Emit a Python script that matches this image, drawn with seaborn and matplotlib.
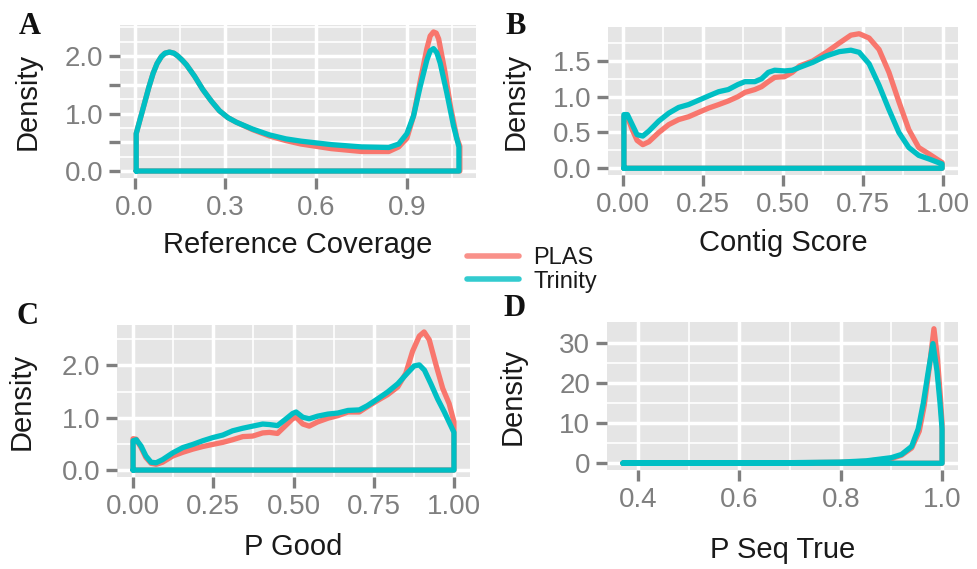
import numpy as np
import pandas as pd
import matplotlib
matplotlib.use("Agg")
import matplotlib.pyplot as plt
import seaborn as sns
from matplotlib.lines import Line2D
from matplotlib.ticker import FixedLocator, FixedFormatter

sns.set_theme(style="darkgrid")
plt.rcParams['font.family'] = ['Liberation Sans', 'DejaVu Sans']

methods = ["PLAS", "Trinity"]
colors = {"PLAS": "#F8766D", "Trinity": "#00BFC4"}

# ---------------- Panel A: Reference Coverage ----------------
a_trin_x = [0.005, 0.019, 0.033, 0.047, 0.061, 0.074, 0.088, 0.10, 0.115, 0.13, 0.143, 0.157, 0.171,
            0.198, 0.225, 0.253, 0.28, 0.308, 0.336, 0.39, 0.445, 0.5, 0.55, 0.65, 0.75, 0.84,
            0.873, 0.9, 0.922, 0.944, 0.966, 0.977, 0.988, 0.999, 1.01, 1.032, 1.054, 1.072]
a_trin_y = [0.65, 0.92, 1.19, 1.46, 1.70, 1.87, 1.99, 2.05, 2.07, 2.05, 2.00, 1.93, 1.85,
            1.65, 1.42, 1.22, 1.05, 0.93, 0.85, 0.73, 0.63, 0.56, 0.52, 0.46, 0.42, 0.41,
            0.47, 0.65, 0.96, 1.47, 1.93, 2.09, 2.13, 2.06, 1.88, 1.36, 0.79, 0.42]
a_plas_x = [0.005, 0.019, 0.033, 0.047, 0.061, 0.074, 0.088, 0.10, 0.115, 0.13, 0.143, 0.157, 0.171,
            0.198, 0.225, 0.253, 0.28, 0.308, 0.336, 0.39, 0.445, 0.5, 0.55, 0.65, 0.75, 0.84,
            0.873, 0.9, 0.922, 0.944, 0.966, 0.977, 0.988, 0.997, 1.005, 1.025, 1.045, 1.065, 1.075]
a_plas_y = [0.65, 0.92, 1.19, 1.46, 1.70, 1.87, 1.99, 2.05, 2.07, 2.05, 2.00, 1.93, 1.85,
            1.65, 1.42, 1.22, 1.05, 0.93, 0.85, 0.72, 0.61, 0.53, 0.47, 0.39, 0.34, 0.34,
            0.42, 0.57, 0.96, 1.56, 2.13, 2.35, 2.42, 2.40, 2.30, 1.75, 1.10, 0.58, 0.43]

# ---------------- Panel B: Contig Score ----------------
b_x = [0.004, 0.015, 0.03, 0.045, 0.063, 0.082, 0.113, 0.144, 0.175, 0.206, 0.237, 0.268, 0.30,
       0.33, 0.36, 0.382, 0.413, 0.434, 0.455, 0.475, 0.506, 0.53, 0.553, 0.594, 0.636, 0.677,
       0.713, 0.739, 0.77, 0.801, 0.832, 0.863, 0.894, 0.925, 0.957, 0.998]
b_trin_y = [0.75, 0.75, 0.61, 0.47, 0.45, 0.52, 0.66, 0.77, 0.85, 0.89, 0.95, 1.01, 1.07,
            1.10, 1.17, 1.21, 1.21, 1.25, 1.34, 1.37, 1.36, 1.37, 1.41, 1.48, 1.57, 1.63,
            1.65, 1.62, 1.46, 1.16, 0.82, 0.50, 0.29, 0.18, 0.13, 0.06]
b_plas_y = [0.73, 0.72, 0.54, 0.39, 0.33, 0.37, 0.50, 0.61, 0.68, 0.72, 0.78, 0.84, 0.89,
            0.94, 1.00, 1.06, 1.10, 1.14, 1.21, 1.27, 1.28, 1.34, 1.43, 1.50, 1.62, 1.75,
            1.86, 1.88, 1.82, 1.66, 1.34, 0.93, 0.54, 0.29, 0.20, 0.08]

# ---------------- Panel C: P Good ----------------
c_trin_x = [0.0, 0.01, 0.025, 0.04, 0.056, 0.072, 0.092, 0.124, 0.155, 0.186, 0.217, 0.248, 0.28,
            0.31, 0.342, 0.373, 0.404, 0.425, 0.45, 0.477, 0.497, 0.508, 0.529, 0.549, 0.575,
            0.607, 0.638, 0.67, 0.705, 0.73, 0.762, 0.793, 0.825, 0.856, 0.876, 0.892, 0.908,
            0.928, 0.949, 0.97, 1.0]
c_trin_y = [0.56, 0.58, 0.46, 0.27, 0.15, 0.14, 0.20, 0.33, 0.43, 0.49, 0.56, 0.62, 0.67,
            0.75, 0.80, 0.84, 0.88, 0.87, 0.85, 0.98, 1.08, 1.11, 1.01, 0.98, 1.03,
            1.07, 1.09, 1.14, 1.15, 1.23, 1.36, 1.49, 1.65, 1.86, 1.99, 2.01, 1.91,
            1.65, 1.36, 1.11, 0.72]
c_plas_x = [0.0, 0.01, 0.025, 0.04, 0.056, 0.072, 0.092, 0.124, 0.155, 0.186, 0.217, 0.248, 0.28,
            0.31, 0.342, 0.373, 0.404, 0.425, 0.45, 0.477, 0.497, 0.508, 0.529, 0.549, 0.575,
            0.607, 0.638, 0.67, 0.705, 0.73, 0.762, 0.793, 0.825, 0.85, 0.871, 0.892, 0.907,
            0.923, 0.944, 0.965, 0.985, 1.0]
c_plas_y = [0.60, 0.59, 0.43, 0.24, 0.13, 0.11, 0.15, 0.27, 0.34, 0.40, 0.45, 0.49, 0.53,
            0.58, 0.64, 0.65, 0.71, 0.72, 0.70, 0.86, 0.98, 1.01, 0.88, 0.84, 0.92,
            0.99, 1.04, 1.11, 1.11, 1.21, 1.33, 1.44, 1.59, 1.85, 2.27, 2.56, 2.64,
            2.49, 2.01, 1.56, 1.27, 0.92]

# ---------------- Panel D: P Seq True ----------------
d_trin_x = [0.37, 0.5, 0.6, 0.7, 0.8, 0.85, 0.9, 0.92, 0.94, 0.953, 0.963, 0.973, 0.982, 0.99, 0.996, 1.0]
d_trin_y = [0.1, 0.1, 0.1, 0.15, 0.3, 0.6, 1.4, 2.2, 4.2, 8.6, 15.0, 23.0, 29.8, 23.0, 15.0, 8.5]
d_plas_x = [0.37, 0.5, 0.6, 0.7, 0.8, 0.85, 0.9, 0.92, 0.94, 0.955, 0.965, 0.975, 0.984, 0.991, 0.997, 1.0]
d_plas_y = [0.1, 0.1, 0.1, 0.12, 0.25, 0.5, 1.2, 2.0, 3.8, 8.0, 14.5, 24.0, 33.5, 26.0, 16.0, 10.0]


def closed_frame(series):
    """Build a long frame of closed density outlines (as geom_density draws them)."""
    rows = []
    for name, xs, ys in series:
        px = [xs[0]] + list(xs) + [xs[-1], xs[0]]
        py = [0.0] + list(ys) + [0.0, 0.0]
        for x, y in zip(px, py):
            rows.append({"method": name, "x": x, "y": y})
    return pd.DataFrame(rows)


W, H = 977, 569
fig = plt.figure(figsize=(W / 100, H / 100), dpi=100)
fig.patch.set_facecolor("white")

panels = [
    dict(box=(120, 25, 476, 178), letter="A", letter_pos=(30, 27),
         series=[("PLAS", a_plas_x, a_plas_y), ("Trinity", a_trin_x, a_trin_y)],
         xmaj=[0.0, 0.3, 0.6, 0.9], xlab=["0.0", "0.3", "0.6", "0.9"], xmin=[0.15, 0.45, 0.75, 1.05],
         ymaj=[0.0, 0.5, 1.0, 1.5, 2.0], ylab=["0.0", "", "1.0", "", "2.0"],
         ymin=[0.25, 0.75, 1.25, 1.75, 2.25, 2.5],
         xlabel="Reference Coverage", xl_dist=67, yl_dist=92),
    dict(box=(608, 27, 958, 175), letter="B", letter_pos=(516, 26),
         series=[("PLAS", b_x, b_plas_y), ("Trinity", b_x, b_trin_y)],
         xmaj=[0.0, 0.25, 0.5, 0.75, 1.0], xlab=["0.00", "0.25", "0.50", "0.75", "1.00"],
         xmin=[0.125, 0.375, 0.625, 0.875],
         ymaj=[0.0, 0.5, 1.0, 1.5], ylab=["0.0", "0.5", "1.0", "1.5"],
         ymin=[0.25, 0.75, 1.25, 1.75],
         xlabel="Contig Score", xl_dist=68, yl_dist=92),
    dict(box=(117, 325, 470, 477), letter="C", letter_pos=(27, 317),
         series=[("PLAS", c_plas_x, c_plas_y), ("Trinity", c_trin_x, c_trin_y)],
         xmaj=[0.0, 0.25, 0.5, 0.75, 1.0], xlab=["0.00", "0.25", "0.50", "0.75", "1.00"],
         xmin=[0.125, 0.375, 0.625, 0.875],
         ymaj=[0.0, 1.0, 2.0], ylab=["0.0", "1.0", "2.0"], ymin=[0.5, 1.5, 2.5],
         xlabel="P Good", xl_dist=70, yl_dist=95),
    dict(box=(607, 322, 958, 470), letter="D", letter_pos=(514, 308),
         series=[("PLAS", d_plas_x, d_plas_y), ("Trinity", d_trin_x, d_trin_y)],
         xmaj=[0.4, 0.6, 0.8, 1.0], xlab=["0.4", "0.6", "0.8", "1.0"], xmin=[0.5, 0.7, 0.9],
         ymaj=[0, 10, 20, 30], ylab=["0", "10", "20", "30"], ymin=[5, 15, 25],
         xlabel="P Seq True", xl_dist=80, yl_dist=94),
]

tick_gray = "#7F7F7F"
for p in panels:
    l, t, r, b = p["box"]
    ax = fig.add_axes([l / W, 1 - b / H, (r - l) / W, (b - t) / H])
    df = closed_frame(p["series"])
    sns.lineplot(data=df, x="x", y="y", hue="method", hue_order=methods, palette=colors,
                 sort=False, estimator=None, lw=3.8, legend=False, ax=ax,
                 solid_joinstyle="round", solid_capstyle="round")
    # ggplot-like 5% expansion
    allx = np.concatenate([np.asarray(s[1]) for s in p["series"]])
    ally = np.concatenate([np.asarray(s[2]) for s in p["series"]] + [np.array([0.0])])
    ex = 0.05 * (allx.max() - allx.min())
    ey = 0.05 * (ally.max() - ally.min())
    ax.set_xlim(allx.min() - ex, allx.max() + ex)
    ax.set_ylim(ally.min() - ey, ally.max() + ey)

    ax.set_facecolor("#E5E5E5")
    for s in ax.spines.values():
        s.set_visible(False)
    ax.xaxis.set_major_locator(FixedLocator(p["xmaj"]))
    ax.xaxis.set_major_formatter(FixedFormatter(p["xlab"]))
    ax.xaxis.set_minor_locator(FixedLocator(p["xmin"]))
    ax.yaxis.set_major_locator(FixedLocator(p["ymaj"]))
    ax.yaxis.set_major_formatter(FixedFormatter(p["ylab"]))
    ax.yaxis.set_minor_locator(FixedLocator(p["ymin"]))
    ax.grid(which="major", color="white", lw=2.5)
    ax.grid(which="minor", color="white", lw=1.2)
    ax.set_axisbelow(True)
    ax.tick_params(which="major", bottom=True, left=True, direction="out", length=8, width=2.4,
                   color=tick_gray, labelcolor=tick_gray, labelsize=20, pad=4)
    ax.tick_params(which="minor", bottom=False, left=False, length=0)

    ax.set_xlabel(p["xlabel"], fontsize=21, color="#1A1A1A", va="center")
    ax.xaxis.set_label_coords(0.5, -p["xl_dist"] / (b - t))
    ax.set_ylabel("Density", fontsize=21, color="#1A1A1A", va="center")
    ax.yaxis.set_label_coords(-p["yl_dist"] / (r - l), 0.5)

    lx, ly = p["letter_pos"]
    fig.text(lx / W, 1 - ly / H, p["letter"], family=["Liberation Serif", "DejaVu Serif"],
             weight="bold", fontsize=22, ha="center", va="center", color="#111111")

handles = [Line2D([0], [0], color=colors[m], lw=4, alpha=0.8) for m in methods]
fig.legend(handles, methods, loc="center left", bbox_to_anchor=(467 / W, 1 - 270 / H),
           frameon=False, fontsize=17, handlelength=2.2, handletextpad=0.6,
           labelspacing=0.05, borderpad=0, borderaxespad=0, labelcolor="#1A1A1A")

fig.savefig("out.png", dpi=100, facecolor="white")
